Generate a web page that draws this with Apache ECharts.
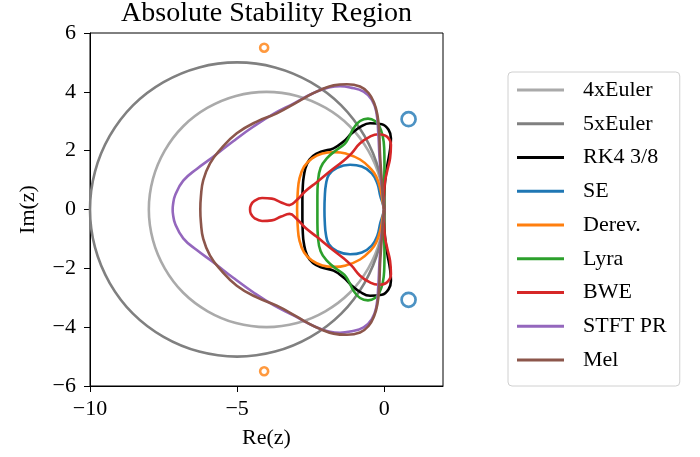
<!DOCTYPE html>
<html>
<head>
<meta charset="utf-8">
<script src="https://cdn.jsdelivr.net/npm/echarts@6/dist/echarts.min.js"></script>
<style>
html,body{margin:0;padding:0;background:#fff;}
#chart{width:700px;height:457px;}
</style>
</head>
<body>
<div id="chart"></div>
<script>
const euler4Upper = [[0,0],[-0.14,1.04],[-0.54,2.0],[-1.17,2.83],[-2.0,3.46],[-2.96,3.86],[-4,4],[-5.04,3.86],[-6,3.46],[-6.83,2.83],[-7.46,2.0],[-7.86,1.04],[-8,0]];
const euler5Upper = [[0,0],[-0.17,1.29],[-0.67,2.5],[-1.46,3.54],[-2.5,4.33],[-3.71,4.83],[-5,5],[-6.29,4.83],[-7.5,4.33],[-8.54,3.54],[-9.33,2.5],[-9.83,1.29],[-10,0]];
const rk4Upper = [[0,0],[0,0.4],[0.03,0.95],[0.11,1.52],[0.2,2.03],[0.23,2.42],[0.15,2.71],[-0.08,2.9],[-0.48,2.93],[-0.82,2.8],[-1.1,2.59],[-1.38,2.31],[-1.72,2.08],[-2.12,1.97],[-2.42,1.82],[-2.62,1.56],[-2.73,1.15],[-2.77,0.7],[-2.78,0.3],[-2.78,0]];
const seUpper = [[0,0],[-0.05,0.2],[-0.13,0.45],[-0.23,0.88],[-0.42,1.23],[-0.76,1.46],[-1.16,1.52],[-1.6,1.42],[-1.88,1.18],[-1.98,0.85],[-2.02,0.4],[-2.03,0]];
const derevUpper = [[0,0],[-0.04,0.2],[-0.13,0.7],[-0.27,1.12],[-0.45,1.38],[-0.82,1.7],[-1.3,1.9],[-1.7,1.95],[-2.1,1.9],[-2.45,1.74],[-2.72,1.46],[-2.88,1.05],[-2.94,0.55],[-2.96,0]];
const lyraUpper = [[0,0],[0,0.66],[0.01,1.57],[0,2.1],[-0.05,2.5],[-0.16,2.82],[-0.31,3.01],[-0.55,3.09],[-0.82,3.01],[-1.04,2.76],[-1.2,2.45],[-1.35,2.22],[-1.61,2.03],[-1.95,1.74],[-2.16,1.42],[-2.25,0.95],[-2.27,0.45],[-2.27,0]];
const bweUpper = [[0,0],[-0.01,0.3],[0.02,0.89],[0.11,1.34],[0.2,1.74],[0.23,2.2],[0.09,2.48],[-0.19,2.56],[-0.48,2.48],[-0.82,2.25],[-1.1,1.92],[-1.38,1.66],[-1.84,1.3],[-2.29,0.93],[-2.68,0.62],[-2.97,0.32],[-3.22,0.15],[-3.5,0.24],[-3.82,0.37],[-4.15,0.39],[-4.4,0.3],[-4.53,0.15],[-4.56,0]];
const stftUpper = [[0,0],[-0.04,0.4],[-0.1,1.0],[-0.16,1.8],[-0.2,2.6],[-0.27,3.33],[-0.42,3.73],[-0.7,4.01],[-1.16,4.15],[-1.5,4.19],[-1.84,4.16],[-2.4,3.96],[-3.08,3.6],[-3.76,3.25],[-4.44,2.82],[-5.12,2.33],[-5.8,1.8],[-6.37,1.38],[-6.83,0.98],[-7.1,0.5],[-7.18,0.15],[-7.19,0]];
const melUpper = [[0,0],[-0.04,0.44],[-0.09,1.1],[-0.14,1.86],[-0.17,2.65],[-0.23,3.22],[-0.34,3.62],[-0.53,3.96],[-0.82,4.18],[-1.27,4.26],[-1.72,4.22],[-2.2,4.05],[-2.63,3.84],[-2.97,3.64],[-3.65,3.27],[-4.33,2.99],[-5.01,2.59],[-5.58,2.03],[-5.92,1.57],[-6.15,1.0],[-6.23,0.44],[-6.25,0]];
const sePoints = [[0.83,3.07],[0.83,-3.07]];
const derevPoints = [[-4.08,5.5],[-4.08,-5.5]];

const seriesNames = ['4xEuler','5xEuler','RK4 3/8','SE','Derev.','Lyra','BWE','STFT PR','Mel'];
const seriesColors = ['#aaaaaa','#808080','#000000','#1f77b4','#ff7f0e','#2ca02c','#d62728','#9467bd','#8c564b'];
const uppers = [euler4Upper,euler5Upper,rk4Upper,seUpper,derevUpper,lyraUpper,bweUpper,stftUpper,melUpper];
const xTicks = [-10,-5,0];
const yTicks = [-6,-4,-2,0,2,4,6];

// mirror the upper half about the real axis to close the curve
function closedCurve(upper){
  const lower = upper.slice(0,-1).reverse().map(p => [p[0], -p[1]]);
  return upper.concat(lower);
}

const FONT = "'Liberation Serif', 'Times New Roman', serif";
const fmt = v => String(v).replace('-', '\u2212');

const series = uppers.map((u,i) => ({
  name: seriesNames[i],
  type: 'line',
  data: closedCurve(u),
  smooth: i < 2 ? 0.34 : 0.45,
  showSymbol: false,
  symbol: 'none',
  lineStyle: {color: seriesColors[i], width: 2.6},
  itemStyle: {color: seriesColors[i]},
  z: 2 + i
}));
series.push({
  name: 'SE poles', type: 'scatter', data: sePoints, symbol: 'circle', symbolSize: 14,
  itemStyle: {color: 'rgba(0,0,0,0)', borderColor: seriesColors[3], borderWidth: 2.7}, z: 20
});
series.push({
  name: 'Derev. poles', type: 'scatter', data: derevPoints, symbol: 'circle', symbolSize: 8,
  itemStyle: {color: 'rgba(0,0,0,0)', borderColor: seriesColors[4], borderWidth: 2.6}, z: 20
});

const chart = echarts.init(document.getElementById('chart'), null, {renderer: 'canvas'});
chart.setOption({
  animation: false,
  backgroundColor: '#fff',
  textStyle: {fontFamily: FONT},
  graphic: [{
    type: 'text', x: 266.5, y: 14,
    style: {text: 'Absolute Stability Region', font: "28px 'Liberation Serif', serif", fill: '#000', align: 'center', verticalAlign: 'middle'}
  }],
  grid: {left: 90, top: 33, width: 353, height: 353, show: true, borderColor: '#000', borderWidth: 1, containLabel: false},
  legend: {
    orient: 'vertical', left: 508, top: 72,
    data: seriesNames,
    icon: 'rect', itemWidth: 47, itemHeight: 3, itemGap: 11.75,
    padding: [7, 13, 15, 9],
    borderColor: '#d0d0d0', borderWidth: 1, borderRadius: 4,
    formatter: '{g| }{name}',
    textStyle: {fontFamily: FONT, fontSize: 22, lineHeight: 22, color: '#000', rich: {g: {width: 14, fontSize: 22, lineHeight: 22}}}
  },
  xAxis: {
    type: 'value', min: -10, max: 2, interval: 5,
    name: 'Re(z)', nameLocation: 'middle', nameGap: 41,
    nameTextStyle: {fontFamily: FONT, fontSize: 22, color: '#000'},
    axisLine: {show: true, onZero: false, lineStyle: {color: '#000', width: 1}},
    axisTick: {show: true, length: 6, customValues: xTicks, lineStyle: {color: '#000', width: 1}},
    axisLabel: {customValues: xTicks, margin: 12, fontFamily: FONT, fontSize: 22, color: '#000',
      formatter: v => xTicks.indexOf(v) >= 0 ? fmt(v) : ''},
    splitLine: {show: false}
  },
  yAxis: {
    type: 'value', min: -6, max: 6, interval: 2,
    name: 'Im(z)', nameLocation: 'middle', nameGap: 51,
    nameTextStyle: {fontFamily: FONT, fontSize: 22, color: '#000'},
    axisLine: {show: true, onZero: false, lineStyle: {color: '#000', width: 1}},
    axisTick: {show: true, length: 6, customValues: yTicks, lineStyle: {color: '#000', width: 1}},
    axisLabel: {customValues: yTicks, margin: 14, fontFamily: FONT, fontSize: 22, color: '#000',
      formatter: v => fmt(v)},
    splitLine: {show: false}
  },
  series: series
});
</script>
</body>
</html>
